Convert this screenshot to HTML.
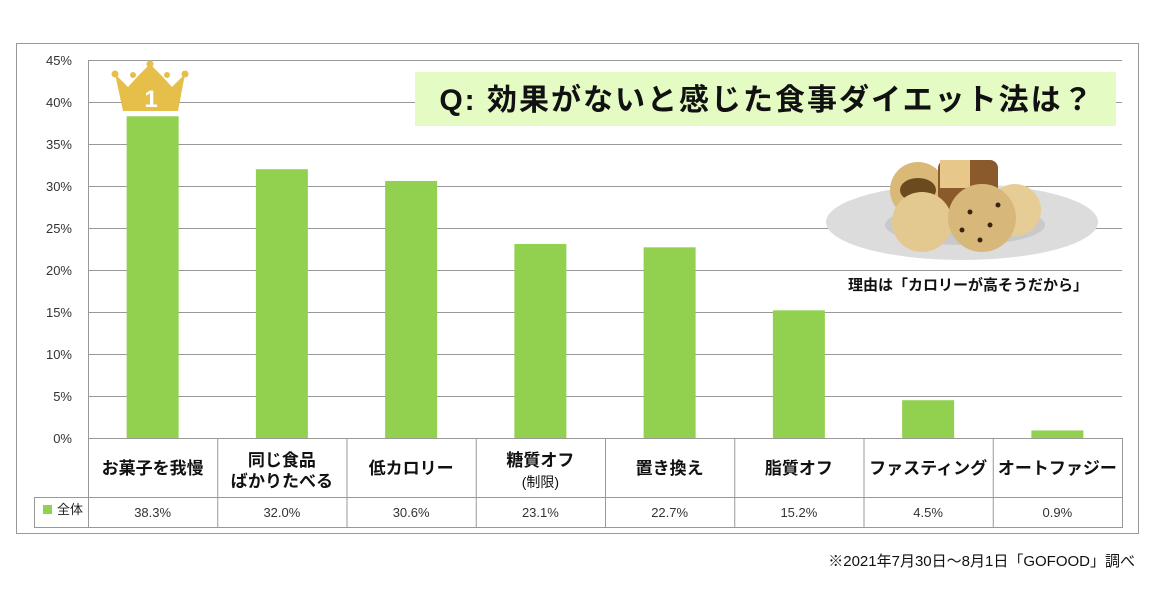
<!DOCTYPE html>
<html><head><meta charset="utf-8"><style>
body{margin:0;background:#fff;width:1160px;height:609px;overflow:hidden;font-family:"Liberation Sans","Noto Sans CJK JP",sans-serif}
svg text{font-family:"Liberation Sans","Noto Sans CJK JP",sans-serif}
</style></head><body>
<svg id="c" width="1160" height="609" xmlns="http://www.w3.org/2000/svg">
<rect x="16.5" y="43.5" width="1122" height="490" fill="#fff" stroke="#999"/>
<g id="grid"></g><g id="bars"></g><g id="tbl"></g>
<rect x="415" y="72" width="701" height="54" fill="#e5fbc4"/>
<text x="767" y="110" text-anchor="middle" font-size="30" font-weight="bold" fill="#111" letter-spacing="2">Q: 効果がないと感じた食事ダイエット法は？</text>
<g>
<ellipse cx="962" cy="222" rx="136" ry="38" fill="#dcdcdc"/>
<ellipse cx="965" cy="225" rx="80" ry="20" fill="#c9c9c9"/>
<circle cx="918" cy="190" r="28" fill="#d9b878"/><ellipse cx="918" cy="190" rx="18" ry="12" fill="#6b4a1f"/>
<rect x="938" y="160" width="60" height="50" rx="8" fill="#8a5a2b"/><rect x="940" y="160" width="30" height="28" fill="#e8c88a"/>
<circle cx="922" cy="222" r="30" fill="#e3c98f"/>
<circle cx="1015" cy="210" r="26" fill="#e6cd95"/>
<circle cx="982" cy="218" r="34" fill="#d8b87a"/>
<circle cx="970" cy="212" r="2.5" fill="#3a2410"/><circle cx="990" cy="225" r="2.5" fill="#3a2410"/><circle cx="980" cy="240" r="2.5" fill="#3a2410"/><circle cx="998" cy="205" r="2.5" fill="#3a2410"/><circle cx="962" cy="230" r="2.5" fill="#3a2410"/>
</g>
<text x="968" y="290" text-anchor="middle" font-size="15" font-weight="bold" fill="#111">理由は「カロリーが高そうだから」</text>
<g>
<polygon points="115,74 128,87 138,76 150,64 162,76 172,87 185,74 178,111 123,111" fill="#e6bf4a"/>
<circle cx="115" cy="74" r="3.5" fill="#e6bf4a"/><circle cx="133" cy="75" r="3" fill="#e6bf4a"/><circle cx="150" cy="64" r="3.5" fill="#e6bf4a"/><circle cx="167" cy="75" r="3" fill="#e6bf4a"/><circle cx="185" cy="74" r="3.5" fill="#e6bf4a"/>
<text x="151" y="107" text-anchor="middle" font-size="24" font-weight="bold" font-family="Liberation Serif,serif" fill="#fff">1</text>
</g>
<text x="1135" y="566" text-anchor="end" font-size="15" fill="#111">※2021年7月30日～8月1日「GOFOOD」調べ</text>
</svg>
<script>
const categories=["お菓子を我慢","同じ食品|ばかりたべる","低カロリー","糖質オフ|(制限)","置き換え","脂質オフ","ファスティング","オートファジー"];
const values=[38.3,32.0,30.6,23.1,22.7,15.2,4.5,0.9];
const valueLabels=["38.3%","32.0%","30.6%","23.1%","22.7%","15.2%","4.5%","0.9%"];
const tickValues=[0,5,10,15,20,25,30,35,40,45];
const NS="http://www.w3.org/2000/svg";
const X0=88,X1=1122,Y0=438,Y1=60,MAX=45;
const cw=(X1-X0)/categories.length;
const y=v=>Y0-(v/MAX)*(Y0-Y1);
const xc=i=>X0+cw*(i+0.5);
function mk(t,a,p){const e=document.createElementNS(NS,t);for(const k in a)e.setAttribute(k,a[k]);p.appendChild(e);return e;}
const g=document.getElementById('grid');
tickValues.forEach(v=>{
 const l=mk('line',{x1:X0,x2:X1,y1:y(v)+.5,y2:y(v)+.5,stroke:'#999'},g);
 
 
 const t=mk('text',{x:72,y:y(v)+5,'text-anchor':'end','font-size':13,fill:'#333'},g);
 
 
 t.textContent=v+'%';
});
mk('line',{x1:X0+.5,x2:X0+.5,y1:Y1,y2:527,stroke:'#999'},g);
const b=document.getElementById('bars');
values.forEach((v,i)=>{
 const r=mk('rect',{x:xc(i)-26,y:y(v),width:52,height:Y0-y(v),fill:'#92d050'},b);
 
 
});
const tb=document.getElementById('tbl');
mk('rect',{x:X0+.5,y:Y0+.5,width:X1-X0,height:59,fill:'none',stroke:'#999'},tb);
mk('rect',{x:34.5,y:497.5,width:X1-34,height:30,fill:'none',stroke:'#999'},tb);
for(let i=1;i<categories.length;i++)mk('line',{x1:X0+cw*i+.5,x2:X0+cw*i+.5,y1:Y0,y2:527,stroke:'#999'},tb);
const lr=mk('rect',{x:43,y:505,width:9,height:9,fill:'#92d050'},tb);


const lt=mk('text',{x:57,y:514,'font-size':13,fill:'#222'},tb);


lt.textContent='全体';
categories.forEach((c,i)=>{
 const parts=c.split('|');
 const t=mk('text',{x:xc(i),'text-anchor':'middle',fill:'#111'},tb);
 
 
 if(parts.length==1){t.setAttribute('y',474);t.setAttribute('font-size',17);t.setAttribute('font-weight','bold');t.textContent=c;}
 else{
  const a=mk('tspan',{x:xc(i),y:466,'font-size':17,'font-weight':'bold'},t);a.textContent=parts[0];
  const small=parts[1].startsWith('(');
  const bb=mk('tspan',{x:xc(i),y:487,'font-size':small?14:17,'font-weight':small?'normal':'bold'},t);bb.textContent=parts[1];
 }
 const v=mk('text',{x:xc(i),y:517,'text-anchor':'middle','font-size':13,fill:'#333'},tb);
 
 
 v.textContent=valueLabels[i];
});
</script>
</body></html>
